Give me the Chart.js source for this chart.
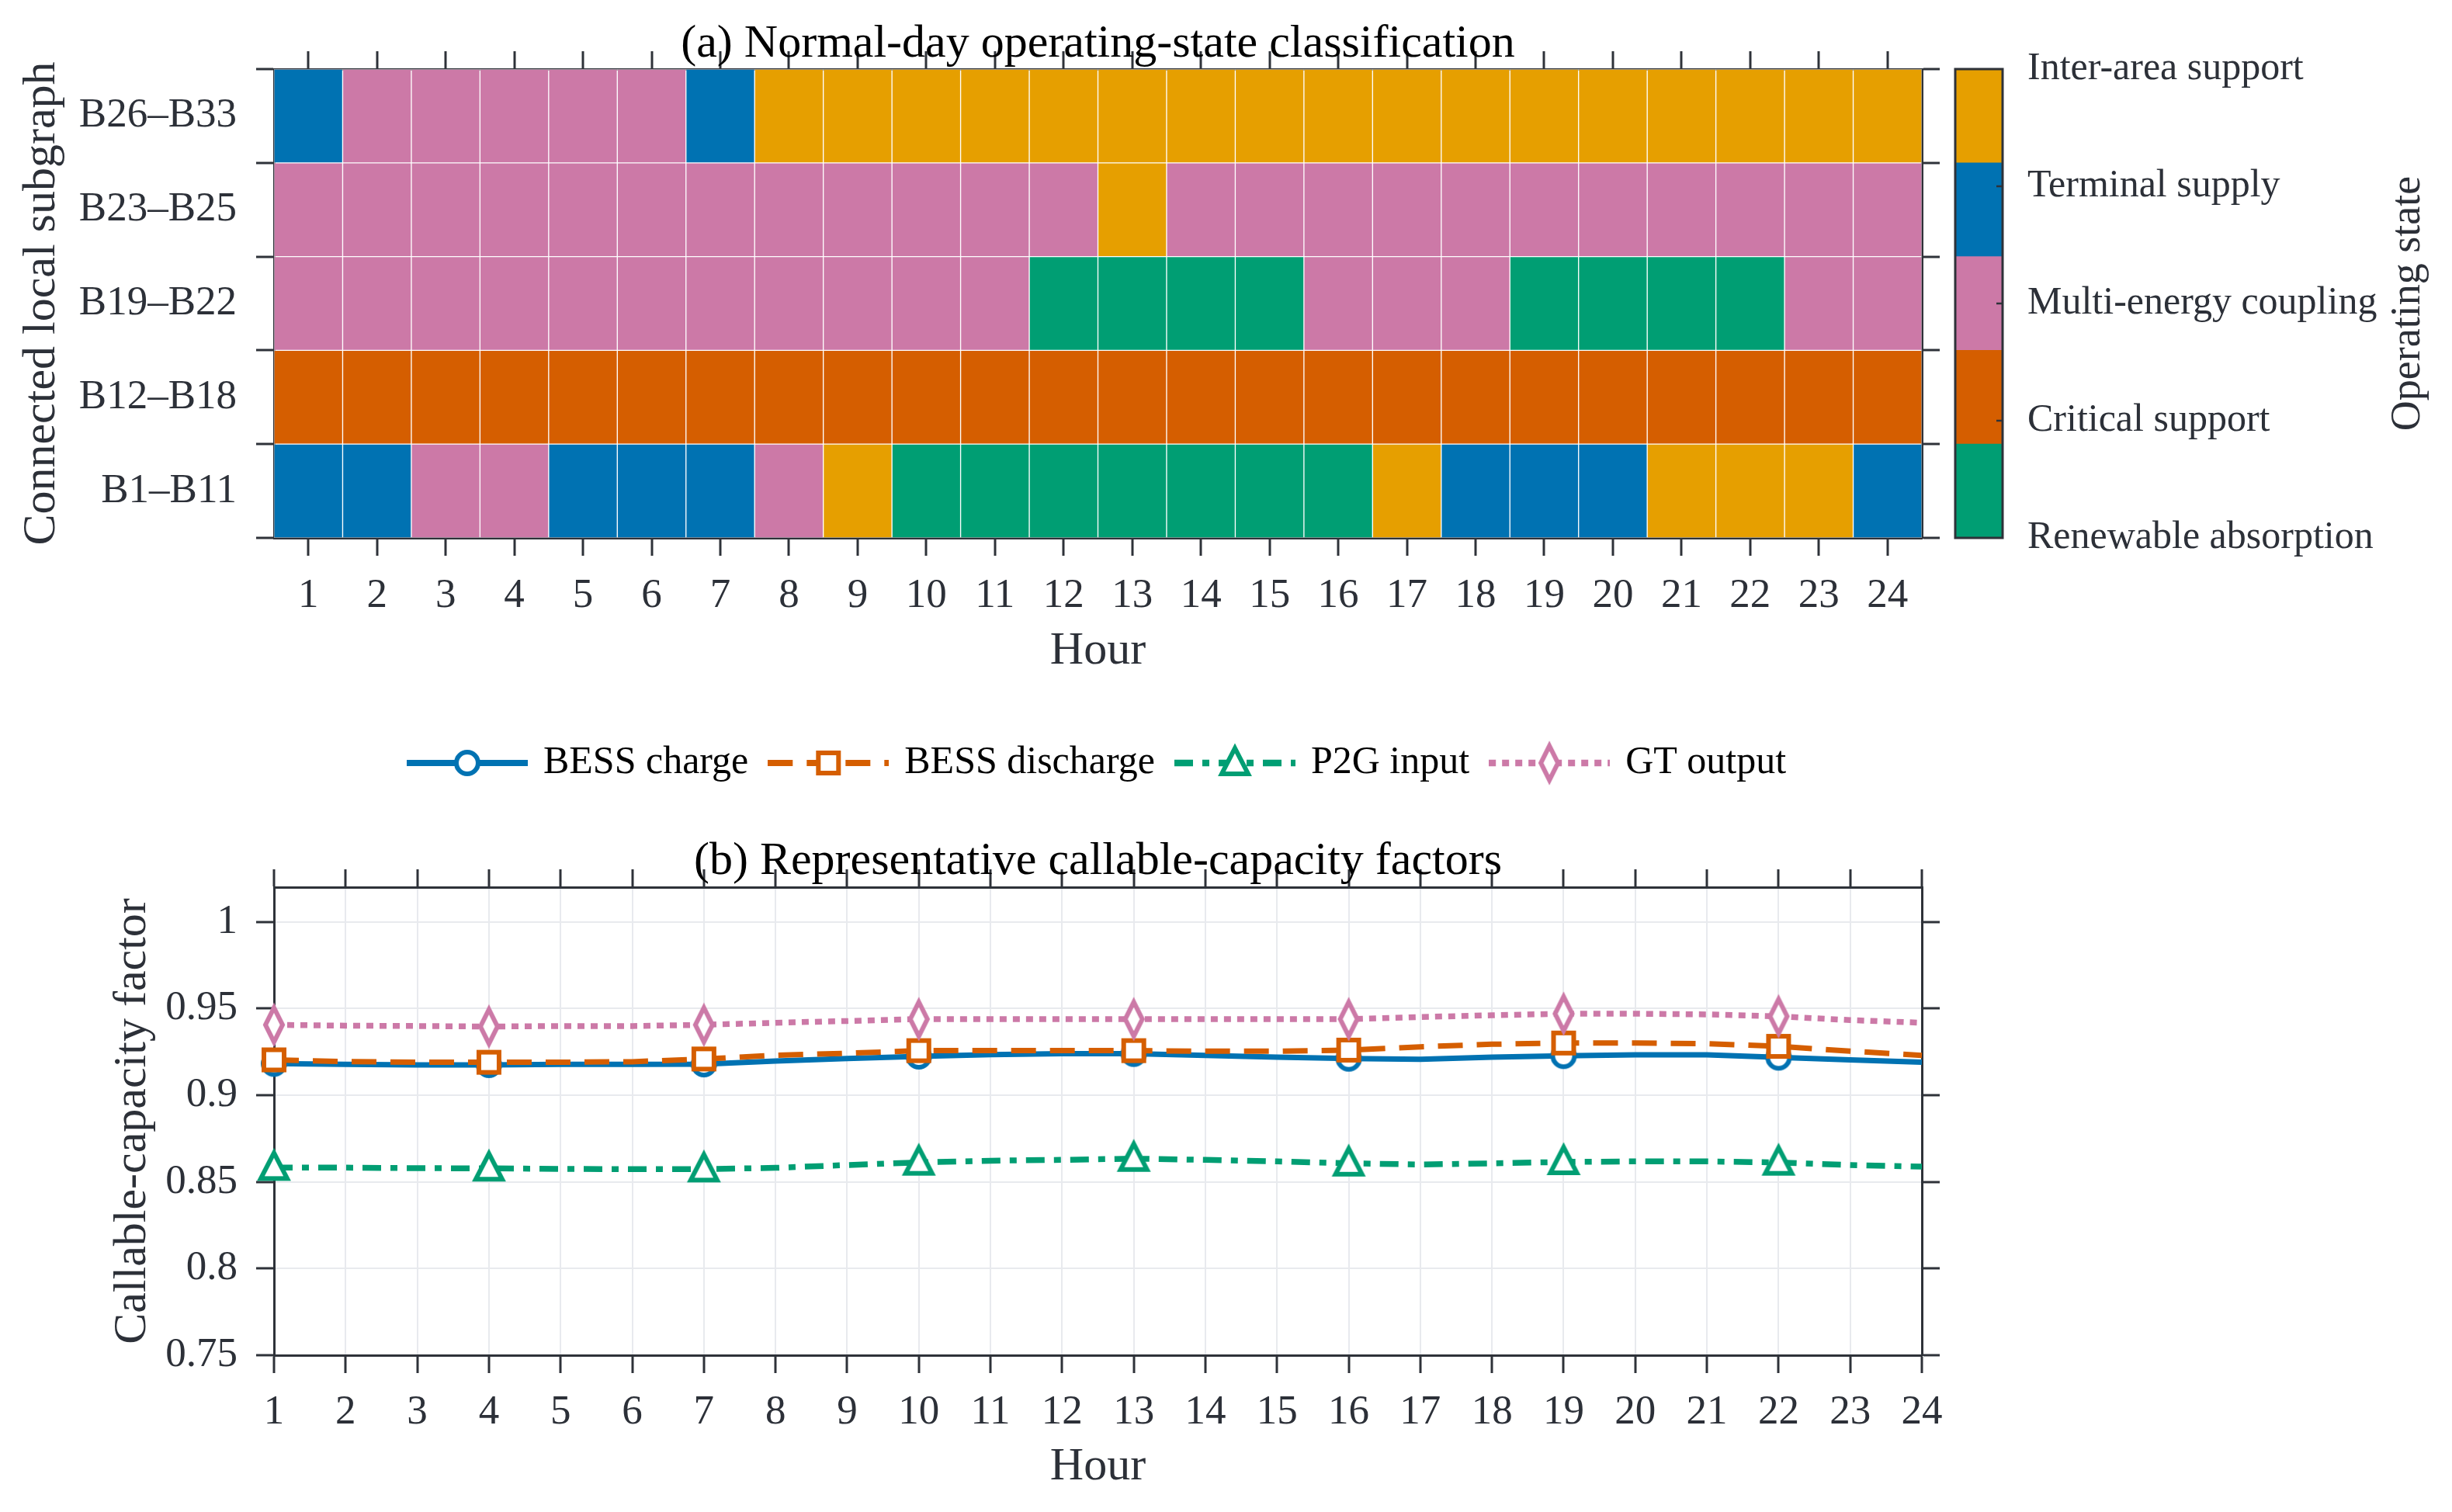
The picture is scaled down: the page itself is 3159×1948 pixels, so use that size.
<!DOCTYPE html>
<html>
<head>
<meta charset="utf-8">
<script src="https://cdn.jsdelivr.net/npm/chart.js@4.4.1/dist/chart.umd.min.js"></script>
<style>
  html, body { margin: 0; padding: 0; background: #fff; }
  body { width: 3159px; height: 1948px; position: relative; overflow: hidden; }
  canvas { position: absolute; }
</style>
</head>
<body>
<canvas id="heat" width="2500" height="900" style="left:0px;top:0px"></canvas>
<canvas id="cbar" width="669" height="900" style="left:2490px;top:0px"></canvas>
<canvas id="lines" width="2830" height="1048" style="left:0px;top:900px"></canvas>
<script>
// ---- data ----
const hours = [1, 2, 3, 4, 5, 6, 7, 8, 9, 10, 11, 12, 13, 14, 15, 16, 17, 18, 19, 20, 21, 22, 23, 24];
const rowLabels = ['B26–B33', 'B23–B25', 'B19–B22', 'B12–B18', 'B1–B11'];

// state codes: 0 renewable, 1 critical, 2 multi-energy, 3 terminal, 4 inter-area
const stateNames = ['Renewable absorption', 'Critical support', 'Multi-energy coupling', 'Terminal supply', 'Inter-area support'];
const stateColors = ['#009E73', '#D55E00', '#CC79A7', '#0072B2', '#E69F00'];
const cbarEdges = [0, 0.8, 1.6, 2.4, 3.2, 4];

const statesB26_B33 = [3, 2, 2, 2, 2, 2, 3, 4, 4, 4, 4, 4, 4, 4, 4, 4, 4, 4, 4, 4, 4, 4, 4, 4];
const statesB23_B25 = [2, 2, 2, 2, 2, 2, 2, 2, 2, 2, 2, 2, 4, 2, 2, 2, 2, 2, 2, 2, 2, 2, 2, 2];
const statesB19_B22 = [2, 2, 2, 2, 2, 2, 2, 2, 2, 2, 2, 0, 0, 0, 0, 2, 2, 2, 0, 0, 0, 0, 2, 2];
const statesB12_B18 = [1, 1, 1, 1, 1, 1, 1, 1, 1, 1, 1, 1, 1, 1, 1, 1, 1, 1, 1, 1, 1, 1, 1, 1];
const statesB1_B11  = [3, 3, 2, 2, 3, 3, 3, 2, 4, 0, 0, 0, 0, 0, 0, 0, 4, 3, 3, 3, 4, 4, 4, 3];
const rowStates = [statesB26_B33, statesB23_B25, statesB19_B22, statesB12_B18, statesB1_B11];

const seriesNames = ['BESS charge', 'BESS discharge', 'P2G input', 'GT output'];
const bessCharge = [0.9182, 0.9178, 0.9175, 0.9175, 0.9178, 0.9178, 0.9179, 0.9197, 0.9212, 0.9224, 0.9234, 0.9239,
                    0.9239, 0.9230, 0.9219, 0.9212, 0.9207, 0.9219, 0.9227, 0.9233, 0.9233, 0.9218, 0.9204, 0.9190];
const bessDischarge = [0.9204, 0.9194, 0.9190, 0.9190, 0.9190, 0.9193, 0.9209, 0.9230, 0.9242, 0.9257, 0.9257, 0.9257,
                       0.9257, 0.9254, 0.9254, 0.9260, 0.9279, 0.9294, 0.9301, 0.9301, 0.9297, 0.9282, 0.9254, 0.9230];
const p2gInput = [0.8582, 0.8582, 0.8579, 0.8578, 0.8575, 0.8573, 0.8573, 0.8581, 0.8597, 0.8612, 0.8622, 0.8627,
                  0.8634, 0.8627, 0.8618, 0.8607, 0.8600, 0.8607, 0.8615, 0.8618, 0.8618, 0.8612, 0.8597, 0.8588];
const gtOutput = [0.9406, 0.9401, 0.9399, 0.9396, 0.9399, 0.9399, 0.9406, 0.9418, 0.9428, 0.9439, 0.9439, 0.9439,
                  0.9439, 0.9439, 0.9439, 0.9439, 0.9451, 0.9461, 0.9470, 0.9470, 0.9466, 0.9455, 0.9433, 0.9418];
const seriesValues = [bessCharge, bessDischarge, p2gInput, gtOutput];
const yTicks = [0.75, 0.8, 0.85, 0.9, 0.95, 1];

// ---- styles ----
Chart.defaults.font.family = '"Liberation Serif", "Times New Roman", serif';
Chart.defaults.color = '#2c3038';
const axisColor = '#2e3239';
const lightGrid = '#e8eaee';
const tickFont = { size: 53 };
const titleFont = { size: 60 };

const seriesStyle = [
  { color: '#0072B2', dash: [], width: 7, shape: 'circle', order: 4 },
  { color: '#D55E00', dash: [32, 18], width: 7, shape: 'square', order: 3 },
  { color: '#009E73', dash: [24, 12, 9, 12], width: 7.5, shape: 'triangle', order: 2 },
  { color: '#CC79A7', dash: [9, 8], width: 7.5, shape: 'diamond', order: 1 }
];

function drawMarker(ctx, shape, cx, cy, color) {
  ctx.save();
  ctx.setLineDash([]);
  ctx.lineWidth = 6;
  ctx.strokeStyle = color;
  ctx.fillStyle = '#fff';
  ctx.beginPath();
  if (shape === 'circle') {
    ctx.arc(cx, cy, 14, 0, Math.PI * 2);
  } else if (shape === 'square') {
    ctx.rect(cx - 13, cy - 13, 26, 26);
  } else if (shape === 'triangle') {
    ctx.moveTo(cx, cy - 19);
    ctx.lineTo(cx + 17, cy + 14);
    ctx.lineTo(cx - 17, cy + 14);
    ctx.closePath();
  } else {
    ctx.moveTo(cx, cy - 22);
    ctx.lineTo(cx + 11, cy);
    ctx.lineTo(cx, cy + 22);
    ctx.lineTo(cx - 11, cy);
    ctx.closePath();
  }
  ctx.fill();
  ctx.stroke();
  ctx.restore();
}

function markerImage(st) {
  const c = document.createElement('canvas');
  c.width = 64; c.height = 64;
  drawMarker(c.getContext('2d'), st.shape, 32, 32, st.color);
  return c;
}

function legendImage(st) {
  const c = document.createElement('canvas');
  c.width = 156; c.height = 60;
  const ctx = c.getContext('2d');
  ctx.strokeStyle = st.color;
  ctx.lineWidth = st.width + 1;
  ctx.setLineDash(st.dash);
  ctx.beginPath();
  ctx.moveTo(0, 30);
  ctx.lineTo(156, 30);
  ctx.stroke();
  drawMarker(ctx, st.shape, 78, 30, st.color);
  return c;
}

const panelTitle = {
  id: 'panelTitle',
  afterDraw(chart, args, opts) {
    const { ctx, chartArea } = chart;
    ctx.save();
    ctx.font = '60px "Liberation Serif", "Times New Roman", serif';
    ctx.fillStyle = '#000';
    ctx.textAlign = 'center';
    ctx.textBaseline = 'middle';
    ctx.fillText(opts.text, (chartArea.left + chartArea.right) / 2, chartArea.top - opts.offset);
    ctx.restore();
  }
};

const cbarFrame = {
  id: 'cbarFrame',
  afterDraw(chart, args, opts) {
    const { ctx, chartArea } = chart;
    const ys = chart.scales.y;
    ctx.save();
    ctx.strokeStyle = axisColor;
    ctx.lineWidth = 2.5;
    [1, 2, 3].forEach(v => {
      const py = ys.getPixelForValue(v);
      ctx.beginPath();
      ctx.moveTo(chartArea.right - 8, py);
      ctx.lineTo(chartArea.right, py);
      ctx.stroke();
    });
    ctx.lineWidth = 3;
    ctx.strokeRect(chartArea.left, chartArea.top, chartArea.right - chartArea.left, chartArea.bottom - chartArea.top);
    ctx.translate(chart.width - 56, (chartArea.top + chartArea.bottom) / 2);
    ctx.rotate(-Math.PI / 2);
    ctx.font = '54px "Liberation Serif", "Times New Roman", serif';
    ctx.fillStyle = '#2c3038';
    ctx.textAlign = 'center';
    ctx.textBaseline = 'middle';
    ctx.fillText(opts.title, 0, 0);
    ctx.restore();
  }
};

function tickGrid(onArea) {
  return { drawOnChartArea: onArea, color: lightGrid, lineWidth: 2, tickLength: 23, tickWidth: 3, tickColor: axisColor };
}
const frameBorder = { color: axisColor, width: 3 };
const hourTicks = s => { s.ticks = hours.map(v => ({ value: v })); };

// ---- (a) heatmap ----
new Chart(document.getElementById('heat'), {
  type: 'bar',
  data: {
    labels: rowLabels,
    datasets: hours.map((h, i) => ({
      label: 'Hour ' + h,
      data: rowLabels.map(() => [h - 0.5, h + 0.5]),
      backgroundColor: rowStates.map(r => stateColors[r[i]]),
      borderColor: 'rgba(255,255,255,0.5)',
      borderWidth: 1,
      borderSkipped: false,
      barPercentage: 1,
      categoryPercentage: 1,
      grouped: false
    }))
  },
  options: {
    indexAxis: 'y',
    responsive: false,
    animation: false,
    devicePixelRatio: 1,
    layout: { padding: 0 },
    plugins: {
      legend: { display: false },
      tooltip: { enabled: false },
      panelTitle: { text: '(a) Normal-day operating-state classification', offset: 32 }
    },
    scales: {
      x: {
        type: 'linear', position: 'bottom', min: 0.5, max: 24.5,
        afterBuildTicks: hourTicks,
        afterFit: s => { s.height = 207; },
        ticks: { font: tickFont, padding: 20, maxRotation: 0, autoSkip: false },
        grid: tickGrid(false),
        border: frameBorder,
        title: { display: true, text: 'Hour', font: titleFont, padding: { top: 0, bottom: 25 } }
      },
      xTop: {
        type: 'linear', position: 'top', min: 0.5, max: 24.5,
        afterBuildTicks: hourTicks,
        afterFit: s => { s.height = 89; },
        ticks: { display: false },
        grid: tickGrid(false),
        border: frameBorder
      },
      y: {
        type: 'category', position: 'left',
        afterFit: s => { s.width = 353; },
        ticks: { font: tickFont, padding: 25 },
        grid: tickGrid(false),
        border: frameBorder,
        title: { display: true, text: 'Connected local subgraph', font: titleFont, padding: { top: 18, bottom: 0 } }
      },
      yRight: {
        type: 'category', position: 'right', labels: rowLabels,
        afterFit: s => { s.width = 24; },
        ticks: { display: false },
        grid: tickGrid(false),
        border: frameBorder
      }
    }
  },
  plugins: [panelTitle]
});

// ---- colour bar ----
new Chart(document.getElementById('cbar'), {
  type: 'bar',
  data: {
    labels: ['state'],
    datasets: stateNames.map((n, k) => ({
      label: n,
      data: [[cbarEdges[k], cbarEdges[k + 1]]],
      backgroundColor: stateColors[k],
      borderWidth: 0,
      barPercentage: 1,
      categoryPercentage: 1,
      grouped: false
    }))
  },
  options: {
    responsive: false,
    animation: false,
    devicePixelRatio: 1,
    layout: { padding: { left: 29, top: 89, bottom: 207, right: 0 } },
    plugins: {
      legend: { display: false },
      tooltip: { enabled: false },
      cbarFrame: { title: 'Operating state' }
    },
    scales: {
      x: { display: false },
      y: {
        type: 'linear', position: 'right', min: 0, max: 4,
        afterBuildTicks: s => { s.ticks = stateNames.map((n, k) => ({ value: k })); },
        afterFit: s => { s.width = 579; },
        ticks: { font: { size: 50 }, padding: 24, callback: v => stateNames[v] },
        grid: { display: false },
        border: { display: false }
      }
    }
  },
  plugins: [cbarFrame]
});

// ---- (b) callable-capacity factors ----
const legendIcons = seriesStyle.map(legendImage);
new Chart(document.getElementById('lines'), {
  type: 'line',
  data: {
    labels: hours,
    datasets: seriesValues.map((vals, i) => ({
      label: seriesNames[i],
      data: vals,
      borderColor: seriesStyle[i].color,
      borderWidth: seriesStyle[i].width,
      borderDash: seriesStyle[i].dash,
      borderCapStyle: 'butt',
      pointStyle: markerImage(seriesStyle[i]),
      pointRadius: c => (c.dataIndex % 3 === 0 ? 14 : 0),
      pointHoverRadius: c => (c.dataIndex % 3 === 0 ? 14 : 0),
      tension: 0,
      fill: false,
      clip: false,
      order: seriesStyle[i].order
    }))
  },
  options: {
    responsive: false,
    animation: false,
    devicePixelRatio: 1,
    layout: { padding: { top: 28, left: 0, right: 0, bottom: 0 } },
    plugins: {
      tooltip: { enabled: false },
      panelTitle: { text: '(b) Representative callable-capacity factors', offset: 33 },
      legend: {
        position: 'top',
        labels: {
          usePointStyle: true,
          pointStyleWidth: 146,
          padding: 30,
          color: '#000',
          font: { size: 50 },
          generateLabels: () => seriesNames.map((n, i) => ({
            text: n,
            pointStyle: legendIcons[i],
            fillStyle: 'rgba(0,0,0,0)',
            strokeStyle: 'rgba(0,0,0,0)',
            lineWidth: 0,
            hidden: false,
            datasetIndex: i,
            fontColor: '#000'
          }))
        }
      }
    },
    scales: {
      x: {
        type: 'linear', position: 'bottom', min: 1, max: 24,
        afterBuildTicks: hourTicks,
        afterFit: s => { s.height = 202; },
        ticks: { font: tickFont, padding: 19, maxRotation: 0, autoSkip: false },
        grid: tickGrid(true),
        border: frameBorder,
        title: { display: true, text: 'Hour', font: titleFont, padding: { top: 0, bottom: 22 } }
      },
      xTop: {
        type: 'linear', position: 'top', min: 1, max: 24,
        afterBuildTicks: hourTicks,
        afterFit: s => { s.height = 125; },
        ticks: { display: false },
        grid: tickGrid(false),
        border: frameBorder
      },
      y: {
        type: 'linear', position: 'left', min: 0.75, max: 1.02,
        afterBuildTicks: s => { s.ticks = yTicks.map(v => ({ value: v })); },
        afterFit: s => { s.width = 353; },
        ticks: { font: tickFont, padding: 24, callback: v => String(v) },
        grid: tickGrid(true),
        border: frameBorder,
        title: { display: true, text: 'Callable-capacity factor', font: titleFont, padding: { top: 135, bottom: 0 } }
      },
      yRight: {
        type: 'linear', position: 'right', min: 0.75, max: 1.02,
        afterBuildTicks: s => { s.ticks = yTicks.map(v => ({ value: v })); },
        afterFit: s => { s.width = 354; },
        ticks: { display: false },
        grid: tickGrid(false),
        border: frameBorder
      }
    }
  },
  plugins: [panelTitle]
});
</script>
</body>
</html>
